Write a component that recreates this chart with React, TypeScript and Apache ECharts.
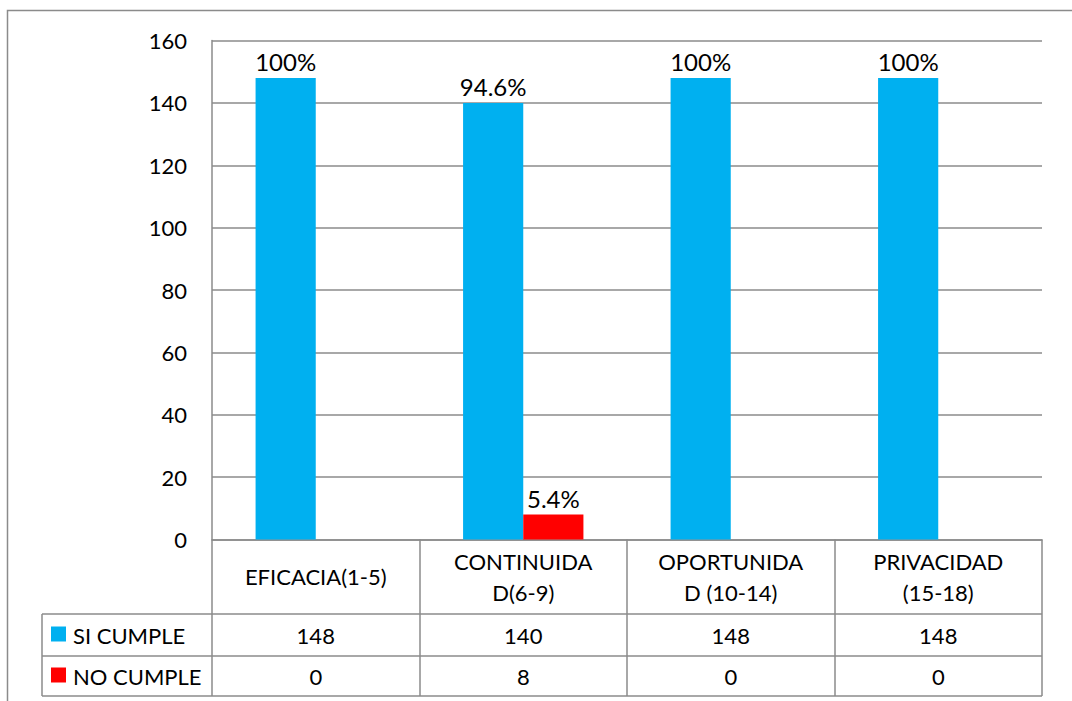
import React, { useEffect, useRef } from "react";
import * as echarts from "echarts";

// Criteria (category labels wrap as in the data table header)
const categories = ["EFICACIA(1-5)", "CONTINUIDA\nD(6-9)", "OPORTUNIDA\nD (10-14)", "PRIVACIDAD\n(15-18)"];
const seriesNames = ["SI CUMPLE", "NO CUMPLE"];
const seriesColors = ["#00B0F0", "#FF0000"];
const siCumple = [148, 140, 148, 148];
const noCumple = [0, 8, 0, 0];
const total = 148;
const yTicks = { min: 0, max: 160, interval: 20 };

const FONT = "Lato";
const GRID = "#8b8b8b";

// Plot area edges in page pixels
const L = 212;
const R = 1042;
const TOP = 40.5;
const BASE = 539.5;
// Data-table row boundaries
const ROW1 = 614;
const ROW2 = 656;
const ROW3 = 696;
const LEGEND_X = 42;

function pct(v: number): string {
  const p = Math.round((v / total) * 1000) / 10;
  return (Number.isInteger(p) ? p.toFixed(0) : p.toFixed(1)) + "%";
}

export default function App() {
  const ref = useRef<HTMLDivElement>(null);

  useEffect(() => {
    if (!ref.current) return;
    const chart = echarts.init(ref.current, null, { renderer: "svg" });
    const line = (x1: number, y1: number, x2: number, y2: number) => ({
      type: "line",
      shape: { x1, y1, x2, y2 },
      style: { stroke: GRID, lineWidth: 1.5 },
      silent: true,
    });
    const valueLabel = {
      show: true,
      position: "top",
      distance: 4,
      fontFamily: FONT,
      fontSize: 24,
      color: "#000",
      formatter: (p: any) => (p.value > 0 ? pct(p.value) : ""),
    };
    const rowAxis = (values: number[], margin: number) => ({
      type: "category",
      position: "bottom",
      data: values.map(String),
      axisLine: { show: false },
      axisTick: { show: false },
      splitLine: { show: false },
      axisLabel: {
        margin,
        verticalAlign: "middle",
        fontFamily: FONT,
        fontSize: 22,
        color: "#000",
      },
    });
    // legend key column of the data table
    const rowCenters = [(ROW1 + ROW2) / 2, (ROW2 + ROW3) / 2];
    const legendKeys = seriesNames.flatMap((name, i) => [
      {
        type: "rect",
        shape: { x: 51, y: rowCenters[i] - 7.5 - 1, width: 15, height: 15 },
        style: { fill: seriesColors[i] },
        silent: true,
      },
      {
        type: "text",
        x: 73,
        y: rowCenters[i],
        style: {
          text: name,
          fontFamily: FONT,
          fontSize: 22,
          fill: "#000",
          verticalAlign: "middle",
          align: "left",
        },
        silent: true,
      },
    ]);
    chart.setOption({
      animation: false,
      backgroundColor: "#fff",
      textStyle: { fontFamily: FONT },
      grid: { left: L, right: 1072 - R, top: TOP, bottom: 701 - BASE, containLabel: false },
      xAxis: [
        {
          type: "category",
          position: "bottom",
          data: categories,
          axisLine: { show: true, lineStyle: { color: GRID, width: 1.5 } },
          axisTick: { show: true, length: ROW3 - BASE, lineStyle: { color: GRID, width: 1.5 } },
          axisLabel: {
            margin: (BASE + ROW1) / 2 - BASE,
            verticalAlign: "middle",
            fontFamily: FONT,
            fontSize: 22,
            lineHeight: 31,
            color: "#000",
            interval: 0,
          },
        },
        rowAxis(siCumple, rowCenters[0] - BASE),
        rowAxis(noCumple, rowCenters[1] - BASE),
      ],
      yAxis: {
        type: "value",
        min: yTicks.min,
        max: yTicks.max,
        interval: yTicks.interval,
        axisLine: { show: true, lineStyle: { color: GRID, width: 1.5 } },
        axisTick: { show: false },
        splitLine: { show: true, lineStyle: { color: GRID, width: 1.5 } },
        axisLabel: { margin: 25, fontFamily: FONT, fontSize: 22, color: "#000" },
      },
      series: [
        {
          name: seriesNames[0],
          type: "bar",
          data: siCumple,
          itemStyle: { color: seriesColors[0] },
          barGap: "0%",
          barCategoryGap: "42%",
          label: valueLabel,
        },
        {
          name: seriesNames[1],
          type: "bar",
          data: noCumple,
          itemStyle: { color: seriesColors[1] },
          label: valueLabel,
        },
      ],
      graphic: [
        // outer chart-area frame
        {
          type: "polyline",
          shape: { points: [[7.5, 720], [7.5, 10.5], [1080, 10.5]] },
          style: { stroke: GRID, lineWidth: 1.5, fill: "none" },
          silent: true,
        },
        // data-table grid
        line(LEGEND_X, ROW1, R, ROW1),
        line(LEGEND_X, ROW2, R, ROW2),
        line(LEGEND_X, ROW3, R, ROW3),
        line(LEGEND_X, ROW1, LEGEND_X, ROW3),
        ...legendKeys,
      ],
    });
    return () => chart.dispose();
  }, []);

  return (
    <div
      ref={ref}
      style={{ position: "fixed", left: 0, top: 0, width: 1072, height: 701 }}
    />
  );
}
